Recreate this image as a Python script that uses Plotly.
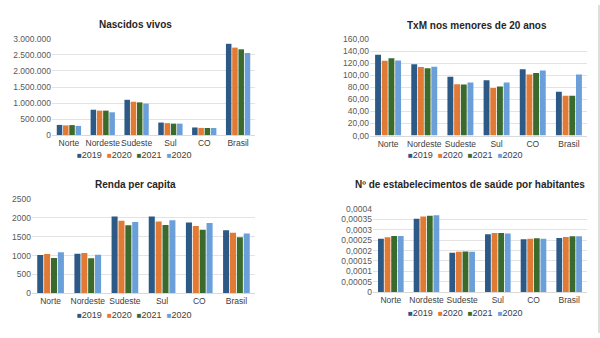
import plotly.graph_objects as go

categories = ["Norte", "Nordeste", "Sudeste", "Sul", "CO", "Brasil"]
series_names = ["2019", "2020", "2021", "2020"]
colors = ["#2C5985", "#E07A35", "#3A6B2C", "#6B9FD9"]

nascidos = [
    [316000, 790000, 1100000, 390000, 236000, 2849000],
    [302000, 762000, 1040000, 372000, 222000, 2730000],
    [310000, 762000, 1020000, 356000, 220000, 2677000],
    [286000, 710000, 982000, 356000, 220000, 2562000],
]
txm = [
    [134.0, 118.0, 97.5, 91.6, 110.0, 72.7],
    [124.0, 113.7, 85.0, 78.7, 101.0, 65.7],
    [128.0, 111.5, 84.6, 81.4, 103.4, 65.7],
    [124.5, 114.0, 88.0, 88.0, 107.8, 101.0],
]
renda = [
    [1014, 1048, 2036, 2036, 1881, 1675],
    [1040, 1065, 1924, 1907, 1787, 1606],
    [936, 928, 1804, 1813, 1684, 1486],
    [1091, 1022, 1890, 1941, 1864, 1589],
]
saude = [
    [0.000257, 0.000352, 0.000189, 0.000278, 0.000254, 0.000260],
    [0.000264, 0.000363, 0.000194, 0.000284, 0.000256, 0.000265],
    [0.000270, 0.000367, 0.000195, 0.000284, 0.000259, 0.000268],
    [0.000270, 0.000369, 0.000194, 0.000282, 0.000257, 0.000268],
]
titles = ["Nascidos vivos", "TxM nos menores de 20 anos", "Renda per capita",
          "Nº de estabelecimentos de saúde por habitantes"]

W, H = 600, 338
FONT = "Liberation Sans, Arial, sans-serif"

panels = [
    dict(data=nascidos, x=(52, 255), y=(35, 134), rng=[0, 3000000], dtick=500000, fmt=",d",
         leg=(134, 155), title=(135, 20)),
    dict(data=txm, x=(370, 587), y=(35, 134.5), rng=[0, 160], dtick=20, fmt=".2f",
         leg=(466, 155), title=(477, 21)),
    dict(data=renda, x=(32, 255), y=(200, 297), rng=[0, 2500], dtick=500, fmt="d",
         leg=(134, 319), title=(135, 185)),
    dict(data=saude, x=(373, 587), y=(210, 296), rng=[0, 0.0004], dtick=0.00005, fmt=".5~f",
         leg=(466, 317), title=(470, 185)),
]

fig = go.Figure()
layout = dict(
    width=W, height=H, margin=dict(l=0, r=0, t=0, b=0),
    paper_bgcolor="white", plot_bgcolor="white",
    separators=",.", barmode="group", bargap=0.26, bargroupgap=0.12,
    font=dict(family=FONT, size=9, color="#595959"),
    showlegend=False, annotations=[], shapes=[],
)

legend_text = "  ".join(
    f'<span style="color:{c};font-size:8px">■</span>{n}' for c, n in zip(colors, series_names)
)

for i, p in enumerate(panels):
    sfx = "" if i == 0 else str(i + 1)
    for j, name in enumerate(series_names):
        fig.add_trace(go.Bar(
            x=categories, y=p["data"][j], name=name,
            marker=dict(color=colors[j], line=dict(width=0)),
            xaxis="x" + sfx, yaxis="y" + sfx,
        ))
    layout["xaxis" + sfx] = dict(
        domain=[p["x"][0] / W, p["x"][1] / W], anchor="y" + sfx,
        showgrid=False, showline=True, linecolor="#D9D9D9", linewidth=1,
        ticks="", tickangle=0, tickfont=dict(size=8.5, color="#404040"), fixedrange=True,
    )
    layout["yaxis" + sfx] = dict(
        domain=[1 - p["y"][1] / H, 1 - p["y"][0] / H], anchor="x" + sfx,
        range=p["rng"], dtick=p["dtick"], tick0=0, tickformat=p["fmt"],
        showgrid=True, gridcolor="#E3E3E3", gridwidth=1, zeroline=False,
        showline=False, ticks="", tickfont=dict(size=8.5, color="#595959"),
        fixedrange=True,
    )
    layout["annotations"].append(dict(
        text=legend_text, x=p["leg"][0] / W, y=1 - p["leg"][1] / H,
        xref="paper", yref="paper", xanchor="center", yanchor="middle",
        showarrow=False, font=dict(size=9, color="#404040", family=FONT),
    ))
    layout["annotations"].append(dict(
        text="<b>" + titles[i] + "</b>", x=p["title"][0] / W, y=1 - p["title"][1] / H,
        xref="paper", yref="paper", xanchor="center", yanchor="middle",
        showarrow=False, font=dict(size=10, color="#262626", family=FONT),
    ))

layout["shapes"].append(dict(type="line", xref="paper", yref="paper",
                             x0=599 / W, x1=599 / W, y0=0, y1=1,
                             line=dict(color="#BFBFBF", width=1)))

fig.update_layout(**layout)
fig.write_html("out.html")
